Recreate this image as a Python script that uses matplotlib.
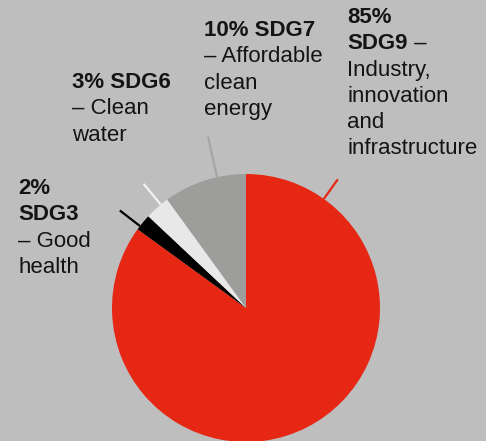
import matplotlib
matplotlib.use("Agg")
import matplotlib.pyplot as plt
import numpy as np

# slices, clockwise from 12 o'clock
labels = ["SDG9", "SDG3", "SDG6", "SDG7"]
shares = [85, 2, 3, 10]
colors = ["#e52713", "#000000", "#e8e8e8", "#9d9d9b"]
line_colors = ["#e52713", "#000000", "#f2f2f2", "#a5a5a5"]

# label text per line: (bold part, normal part)
label_lines = {
    "SDG9": [("85%", ""), ("SDG9", " –"), ("", "Industry,"), ("", "innovation"),
             ("", "and"), ("", "infrastructure")],
    "SDG3": [("2%", ""), ("SDG3", ""), ("", "– Good"), ("", "health")],
    "SDG6": [("3% SDG6", ""), ("", "– Clean"), ("", "water")],
    "SDG7": [("10% SDG7", ""), ("", "– Affordable"), ("", "clean"), ("", "energy")],
}

W, H = 486, 441
BG = "#bebebe"
cx, cy, R = 246, H - 308, 134
# leader angle (deg) and outer radius factor, label anchor (x, first baseline px)
leaders = {"SDG9": (54.5, 1.18), "SDG3": (142.3, 1.19), "SDG6": (129.5, 1.2), "SDG7": (102.5, 1.31)}
anchors = {"SDG9": (347, 23), "SDG3": (18, 194), "SDG6": (72, 88), "SDG7": (204, 36)}
pitch = 26.3
fs = 16

plt.rcParams['font.family'] = ['Liberation Sans', 'DejaVu Sans']

fig = plt.figure(figsize=(W / 100, H / 100), dpi=100, facecolor=BG)
ax = fig.add_axes([0, 0, 1, 1])
ax.set_facecolor(BG)

ax.pie(shares, colors=colors, startangle=90, counterclock=False,
       center=(cx, cy), radius=R, wedgeprops=dict(linewidth=0))

for lab, lc in zip(labels, line_colors):
    ang, rout = leaders[lab]
    a = np.deg2rad(ang)
    ax.plot([cx + R * np.cos(a), cx + R * rout * np.cos(a)],
            [cy + R * np.sin(a), cy + R * rout * np.sin(a)],
            color=lc, lw=1.6, solid_capstyle="butt")

for lab in labels:
    x0, b0 = anchors[lab]
    for i, (bold, normal) in enumerate(label_lines[lab]):
        y = H - (b0 + i * pitch)
        if bold:
            t = ax.text(x0, y, bold, fontsize=fs, fontweight="bold",
                        va="baseline", ha="left", color="#141414")
            if normal:
                ax.annotate(normal, xy=(1, 0), xycoords=t, fontsize=fs,
                            va="bottom", ha="left", color="#141414")
        else:
            ax.text(x0, y, normal, fontsize=fs, va="baseline", ha="left", color="#141414")

ax.set_xlim(0, W)
ax.set_ylim(0, H)
ax.set_aspect("auto")
ax.axis("off")

fig.savefig("out.png", dpi=100, facecolor=BG)
